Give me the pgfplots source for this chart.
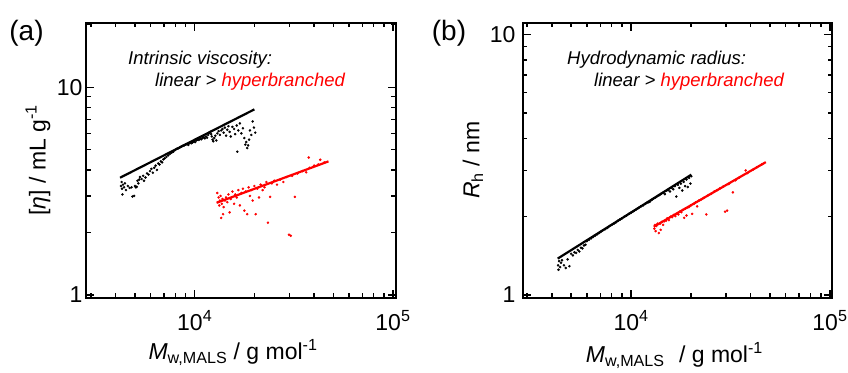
\documentclass[border=0pt]{standalone}
\usepackage{fontspec}
\setmainfont{Liberation Sans}
\usepackage{pgfplots}
\pgfplotsset{compat=1.18}
\definecolor{myred}{RGB}{255,0,0}
\pgfplotsset{
  myaxis/.style={
    scale only axis,
    anchor=south west,
    axis line style={line width=2pt},
    every tick/.style={black, line width=1.3pt},
    major tick length=8pt, minor tick length=4.5pt,
    tick align=inside,
    xtick={1e4,1e5},
    xticklabels={10\textsuperscript{4},10\textsuperscript{5}},
    minor xtick={3000,4000,5000,6000,7000,8000,9000,20000,30000,40000,50000,60000,70000,80000,90000},
    ytick={1,10},
    yticklabels={1,10},
    minor ytick={2,3,4,5,6,7,8,9,20},
    tick label style={font=\fontsize{23}{27}\selectfont},
    xticklabel style={yshift=-9pt},
    label style={font=\fontsize{23}{27}\selectfont},
    ylabel style={anchor=center},
    xlabel style={anchor=center},
  },
  pts/.style={only marks, mark=*, mark size=1.05pt},
  fit/.style={line width=2.2pt, no marks},
}
\begin{document}
\begin{tikzpicture}
\path[use as bounding box] (0,0) rectangle (848pt,372pt);
% ---------------- panel (a)
\begin{loglogaxis}[myaxis, at={(86pt,74.5pt)}, width=309.5pt, height=274.5pt,
  xmin=2830, xmax=1.03e5, ymin=0.973, ymax=20.4,
  xlabel={\textit{M}\textsubscript{w,MALS} / g mol\textsuperscript{-1}},
  ylabel={[\textit{η}] / mL g\textsuperscript{-1}},
  xlabel style={at={(axis description cs:0.475,-0.2)}},
  ylabel style={at={(axis description cs:-0.155,0.5)}},
]
\addplot[fit, black] coordinates {(4200,3.67) (20000,7.83)};
\addplot[pts, black] coordinates {
(4250,3.35) (4280,3.50) (4300,3.25) (4320,3.05) (4350,3.40) (4400,3.30) (4450,3.45) (4500,3.20)
(4600,3.35) (4700,3.28) (4800,3.30) (4850,2.98) (4950,3.00) (5000,3.35) (5050,3.30) (5100,3.32)
(5150,3.55) (5200,3.45) (5250,3.60) (5300,3.70) (5400,3.62) (5500,3.75) (5550,3.55) (5650,3.68)
(5750,3.85) (5850,3.80) (5950,3.95) (6050,4.05) (6150,3.88) (6250,4.10) (6350,4.20) (6450,4.00)
(6550,4.30) (6650,4.25) (6750,4.40) (6850,4.35) (6950,4.50) (7050,4.55) (7200,4.62) (7350,4.70)
(7500,4.78) (7650,4.85) (7800,4.90) (7950,4.98) (8100,5.05) (8250,5.08) (8400,5.12) (8550,5.18)
(8700,5.22) (8850,5.25) (9000,5.30) (9150,5.32) (9300,5.28) (9450,5.40) (9600,5.38) (9750,5.42)
(9900,5.48) (10050,5.45) (10200,5.55) (10350,5.60) (10500,5.58) (10650,5.65) (10800,5.62) (10950,5.70)
(11100,5.75) (11250,5.68) (11400,5.80) (11550,5.72) (11700,5.90) (11850,6.05) (12000,6.10) (12100,5.95)
(12200,5.80) (12300,5.60) (12400,5.50) (12550,5.70) (12700,5.85) (12850,5.55) (13000,6.00) (13200,6.15)
(13400,5.90) (13600,6.20) (13800,6.30) (14000,6.05) (14200,6.40) (14400,5.85) (14600,6.25) (14800,6.50)
(15000,6.10) (15200,5.80) (15500,6.45) (15800,6.30) (16000,5.95) (16300,6.55) (16400,4.90) (16600,6.20)
(16900,6.70) (17200,6.00) (17500,6.35) (17800,5.70) (18000,5.30) (18200,5.45) (18400,5.10) (18600,5.25)
(18800,5.60) (19000,6.20) (19300,5.90) (19600,6.85) (19900,6.40) (20200,6.05)
};
\addplot[fit, myred] coordinates {(12900,2.78) (47300,4.40)};
\addplot[pts, myred] coordinates {
(13000,3.10) (13100,2.80) (13200,2.95) (13300,2.70) (13400,2.85) (13500,3.00) (13600,2.35) (13700,2.75)
(13800,2.90) (13900,2.45) (14000,2.65) (14200,2.85) (14400,2.95) (14600,2.80) (14800,3.05) (15000,2.50)
(15200,2.90) (15500,3.15) (15800,2.75) (16000,3.05) (16300,2.95) (16600,3.20) (16900,2.70) (17200,3.10)
(17500,3.25) (17800,2.55) (18100,3.15) (18400,2.45) (18700,3.30) (19000,3.00) (19300,3.20) (19600,2.85)
(20000,3.35) (20300,2.45) (20700,3.25) (21100,2.95) (21500,3.40) (22000,3.20) (22500,3.30) (23000,3.50)
(23400,2.23) (24000,2.97) (24500,3.45) (25200,3.55) (26000,3.40) (27000,3.60) (28000,3.50) (29000,3.70)
(29900,1.95) (30500,1.93) (31000,3.75) (32000,2.97) (33000,3.85) (35000,3.95) (36500,3.90) (38000,4.10)
(37600,4.59) (40000,4.20) (42000,4.25) (43000,4.48) (45000,4.35)
};
\end{loglogaxis}
% ---------------- panel (b)
\begin{loglogaxis}[myaxis, at={(523pt,74.5pt)}, width=309pt, height=274.5pt,
  xmin=2865, xmax=1.024e5, ymin=0.978, ymax=11.1,
  yticklabel style={xshift=-4pt},
  xlabel={\textit{M}\textsubscript{w,MALS}\hspace{0.35em} / g mol\textsuperscript{-1}},
  ylabel={\textit{R}\textsubscript{h} / nm},
  xlabel style={at={(axis description cs:0.49,-0.21)}},
  ylabel style={at={(axis description cs:-0.162,0.5)}},
]
\addplot[fit, black] coordinates {(4280,1.38) (20100,2.90)};
\addplot[pts, black] coordinates {
(4300,1.30) (4320,1.25) (4350,1.35) (4400,1.28) (4450,1.33) (4500,1.36) (4600,1.30) (4700,1.27)
(4800,1.37) (4900,1.29) (5000,1.44) (5100,1.42) (5200,1.46) (5300,1.45) (5400,1.49) (5500,1.47)
(5600,1.52) (5700,1.51) (5800,1.55) (5900,1.56) (6000,1.61) (6150,1.63) (6300,1.65) (6450,1.67)
(6600,1.69) (6750,1.71) (6900,1.73) (7050,1.75) (7200,1.77) (7400,1.79) (7600,1.81) (7800,1.84)
(8000,1.86) (8200,1.88) (8400,1.90) (8600,1.93) (8800,1.95) (9000,1.97) (9250,2.00) (9500,2.02)
(9750,2.05) (10000,2.07) (10300,2.10) (10600,2.13) (10900,2.16) (11200,2.19) (11500,2.21) (11800,2.24)
(12000,2.26) (12200,2.27) (12400,2.28) (12600,2.31) (12800,2.33) (13000,2.35) (13300,2.37) (13600,2.40)
(13900,2.42) (14200,2.45) (14500,2.47) (14800,2.44) (15100,2.52) (15400,2.53) (15700,2.50) (16000,2.58)
(16300,2.55) (16600,2.62) (16900,2.39) (17200,2.65) (17500,2.58) (17800,2.68) (18100,2.52) (18400,2.72)
(18700,2.62) (19000,2.78) (19300,2.60) (19600,2.82) (19900,2.68) (20100,2.86)
};
\addplot[fit, myred] coordinates {(13000,1.83) (47600,3.24)};
\addplot[pts, myred] coordinates {
(13100,1.80) (13200,1.86) (13300,1.76) (13400,1.84) (13600,1.88) (13800,1.73) (14000,1.88) (14100,1.78)
(14300,1.91) (14500,1.86) (14700,1.92) (15000,1.93) (15200,1.97) (15500,1.94) (15800,2.00) (16100,1.99)
(16400,2.03) (16700,2.01) (17000,2.05) (17300,2.04) (17600,2.09) (17900,2.08) (18200,2.12) (18500,1.98)
(18800,2.15) (19000,2.02) (19300,2.17) (19600,2.18) (20000,2.21) (20300,2.05) (20700,2.24) (21100,2.27)
(21500,2.19) (22000,2.31) (22600,2.33) (23200,2.36) (23900,2.04) (24500,2.42) (25300,2.45) (26200,2.50)
(27100,2.53) (28000,2.57) (29000,2.61) (29700,2.09) (30400,2.11) (31000,2.67) (32500,2.48) (33500,2.76)
(35000,2.83) (37700,3.01) (38500,2.94) (41000,3.03) (43000,3.10) (45500,3.18)
};
\end{loglogaxis}
% ---------------- panel letters and annotations
\node[font=\fontsize{28}{32}\selectfont] at (26.5pt,338.5pt) {(a)};
\node[font=\fontsize{28}{32}\selectfont] at (449pt,338.5pt) {(b)};
\node[anchor=base west, font=\fontsize{18.5}{22}\selectfont\itshape, inner sep=0pt] at (128pt,307pt) {Intrinsic viscosity:};
\node[anchor=base west, font=\fontsize{18.5}{22}\selectfont\itshape, inner sep=0pt] at (155pt,285pt) {linear > \textcolor{myred}{hyperbranched}};
\node[anchor=base west, font=\fontsize{18.5}{22}\selectfont\itshape, inner sep=0pt] at (567pt,307pt) {Hydrodynamic radius:};
\node[anchor=base west, font=\fontsize{18.5}{22}\selectfont\itshape, inner sep=0pt] at (594pt,285pt) {linear > \textcolor{myred}{hyperbranched}};
\end{tikzpicture}
\end{document}
